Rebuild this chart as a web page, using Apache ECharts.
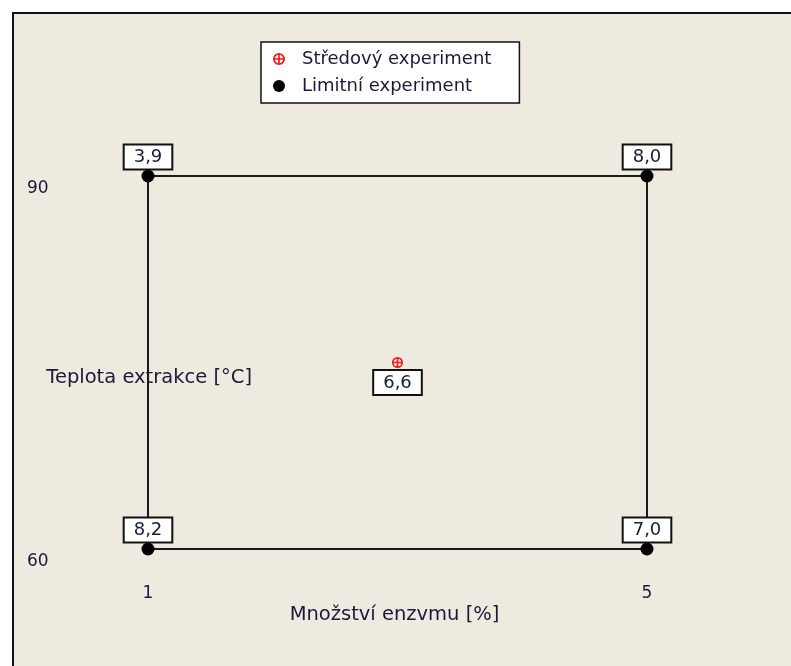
<!DOCTYPE html>
<html>
<head>
<meta charset="utf-8">
<script src="https://cdn.jsdelivr.net/npm/echarts@6/dist/echarts.min.js"></script>
<style>
  html, body { margin: 0; padding: 0; background: #fff; }
  #chart { width: 791px; height: 666px; }
</style>
</head>
<body>
<div id="chart"></div>
<script>
// design points (enzyme %, temperature °C, response)
const limitEnzyme = [1, 5, 1, 5]
const limitTemp = [90, 90, 60, 60]
const limitResponse = [3.9, 8.0, 8.2, 7.0]

const centerEnzyme = [3]
const centerTemp = [75]
const centerResponse = [6.6]

// outline of the design square
const frameEnzyme = [1, 5, 5, 1, 1]
const frameTemp = [90, 90, 60, 60, 90]

const xTicks = [1, 5]
const yTicks = [60, 90]

const seriesNames = ['Středový experiment', 'Limitní experiment']
const xName = 'Množství enzvmu [%]'
const yName = 'Teplota extrakce [°C]'

const font = 'DejaVu Sans'
const textColor = '#1a1a3a'

// circle with a cross
const crossCircle = 'path://M10 0A10 10 0 1 1 9.99 0ZM10 3A7 7 0 1 0 10.01 3ZM8.6 0L11.4 0L11.4 20L8.6 20ZM0 8.6L20 8.6L20 11.4L0 11.4Z'

function fmt(v) {
  return v.toFixed(1).replace('.', ',')
}

const boxLabel = {
  show: true,
  fontFamily: font,
  fontSize: 18,
  lineHeight: 18,
  color: textColor,
  backgroundColor: '#fff',
  borderColor: '#111',
  borderWidth: 2,
  padding: [3, 9, 2, 9],
}

const chart = echarts.init(document.getElementById('chart'))

chart.setOption({
  backgroundColor: '#fff',
  animation: false,
  graphic: [
    {
      type: 'rect',
      z: -10,
      shape: { x: 13, y: 13, width: 900, height: 800 },
      style: { fill: '#eeeae0', stroke: '#111', lineWidth: 2 },
    },
  ],
  legend: {
    orient: 'vertical',
    left: 261,
    top: 42,
    backgroundColor: '#fff',
    borderColor: '#111',
    borderWidth: 1.5,
    padding: [8, 28, 8, 12],
    itemWidth: 12,
    itemHeight: 12,
    itemGap: 9,
    textStyle: {
      fontFamily: font,
      fontSize: 18,
      lineHeight: 18,
      color: textColor,
      padding: [0, 0, 0, 12],
    },
    data: seriesNames,
  },
  grid: { left: 148, right: 144, top: 176, bottom: 117, outerBoundsMode: 'none' },
  xAxis: {
    type: 'value',
    min: 1,
    max: 5,
    interval: 1,
    axisLine: { show: false },
    axisTick: { show: false },
    splitLine: { show: false },
    axisLabel: {
      fontFamily: font,
      fontSize: 17,
      color: textColor,
      margin: 36,
      formatter: (v) => (xTicks.includes(v) ? String(v) : ''),
    },
    name: xName,
    nameLocation: 'middle',
    nameGap: 56,
    nameMoveOverlap: false,
    nameTextStyle: { fontFamily: font, fontSize: 19.5, color: textColor, padding: [0, 6, 0, 0] },
  },
  yAxis: {
    type: 'value',
    min: 60,
    max: 90,
    interval: 30,
    axisLine: { show: false },
    axisTick: { show: false },
    splitLine: { show: false },
    axisLabel: {
      fontFamily: font,
      fontSize: 17,
      color: textColor,
      align: 'left',
      verticalAlign: 'top',
      margin: 121,
      padding: [4, 0, 0, 0],
      formatter: (v) => (yTicks.includes(v) ? String(v) : ''),
    },
    name: yName,
    nameLocation: 'middle',
    nameRotate: 0,
    nameGap: -104,
    nameMoveOverlap: false,
    nameTextStyle: {
      fontFamily: font,
      fontSize: 19.5,
      color: textColor,
      verticalAlign: 'top',
      padding: [5, 0, 0, 0],
    },
  },
  series: [
    {
      type: 'line',
      silent: true,
      symbol: 'none',
      z: 1,
      lineStyle: { color: '#1a1a1a', width: 2 },
      data: frameEnzyme.map((x, i) => [x, frameTemp[i]]),
    },
    {
      name: seriesNames[0],
      type: 'scatter',
      symbol: crossCircle,
      symbolSize: 11,
      z: 3,
      itemStyle: { color: '#ee1c1c', opacity: 1 },
      label: {
        ...boxLabel,
        position: 'bottom',
        distance: 3,
        formatter: (p) => fmt(p.value[2]),
      },
      data: centerEnzyme.map((x, i) => [x, centerTemp[i], centerResponse[i]]),
    },
    {
      name: seriesNames[1],
      type: 'scatter',
      symbol: 'circle',
      symbolSize: 13,
      z: 3,
      itemStyle: { color: '#000', opacity: 1 },
      label: {
        ...boxLabel,
        position: 'top',
        distance: 1,
        formatter: (p) => fmt(p.value[2]),
      },
      data: limitEnzyme.map((x, i) => [x, limitTemp[i], limitResponse[i]]),
    },
  ],
})
</script>
</body>
</html>
